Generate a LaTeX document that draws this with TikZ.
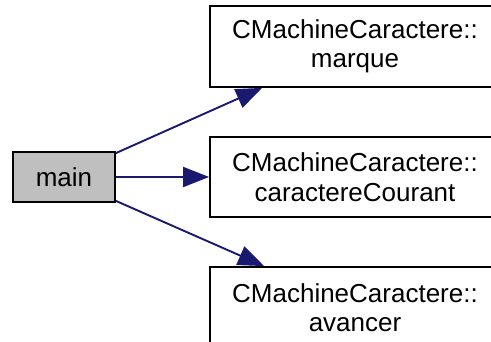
\documentclass[tikz,border=0pt]{standalone}
\usepackage{fontspec}
\setmainfont{Liberation Sans}
\usepackage{tikz}
\usetikzlibrary{arrows.meta}

\definecolor{edgeblue}{RGB}{25,25,112}
\definecolor{maingray}{RGB}{191,191,191}

\tikzset{
  fnbox/.style={draw=black, line width=1.8pt, align=center, inner sep=0pt,
    font=\fontsize{26}{29.5}\selectfont},
  callarrow/.style={draw=edgeblue, line width=1.9pt,
    -{Triangle[length=26pt,width=20pt]}}
}

\begin{document}
\begin{tikzpicture}[x=1pt,y=1pt,yscale=-1,xscale=1]
\useasboundingbox (0,0) rectangle (491,342);

%Shape: Rectangle [main]
\node [fnbox, fill=maingray, minimum width=102pt, minimum height=50pt] (main) at (64,177) {main};
%Shape: Rectangle [marque]
\node [fnbox, minimum width=290pt, minimum height=81pt] (marque) at (355,46.5) {CMachineCaractere::\\marque};
%Shape: Rectangle [caractereCourant]
\node [fnbox, minimum width=290pt, minimum height=80pt] (courant) at (355,177) {CMachineCaractere::\\caractereCourant};
%Shape: Rectangle [avancer]
\node [fnbox, minimum width=290pt, minimum height=81pt] (avancer) at (355,307.5) {CMachineCaractere::\\avancer};

%Straight Lines
\draw [callarrow] ([yshift=2pt]main.north east) -- ([xshift=53pt]marque.south west);
%Straight Lines
\draw [callarrow] (main.east) -- (courant.west);
%Straight Lines
\draw [callarrow] ([yshift=-2pt]main.south east) -- ([xshift=55pt]avancer.north west);

\end{tikzpicture}
\end{document}
